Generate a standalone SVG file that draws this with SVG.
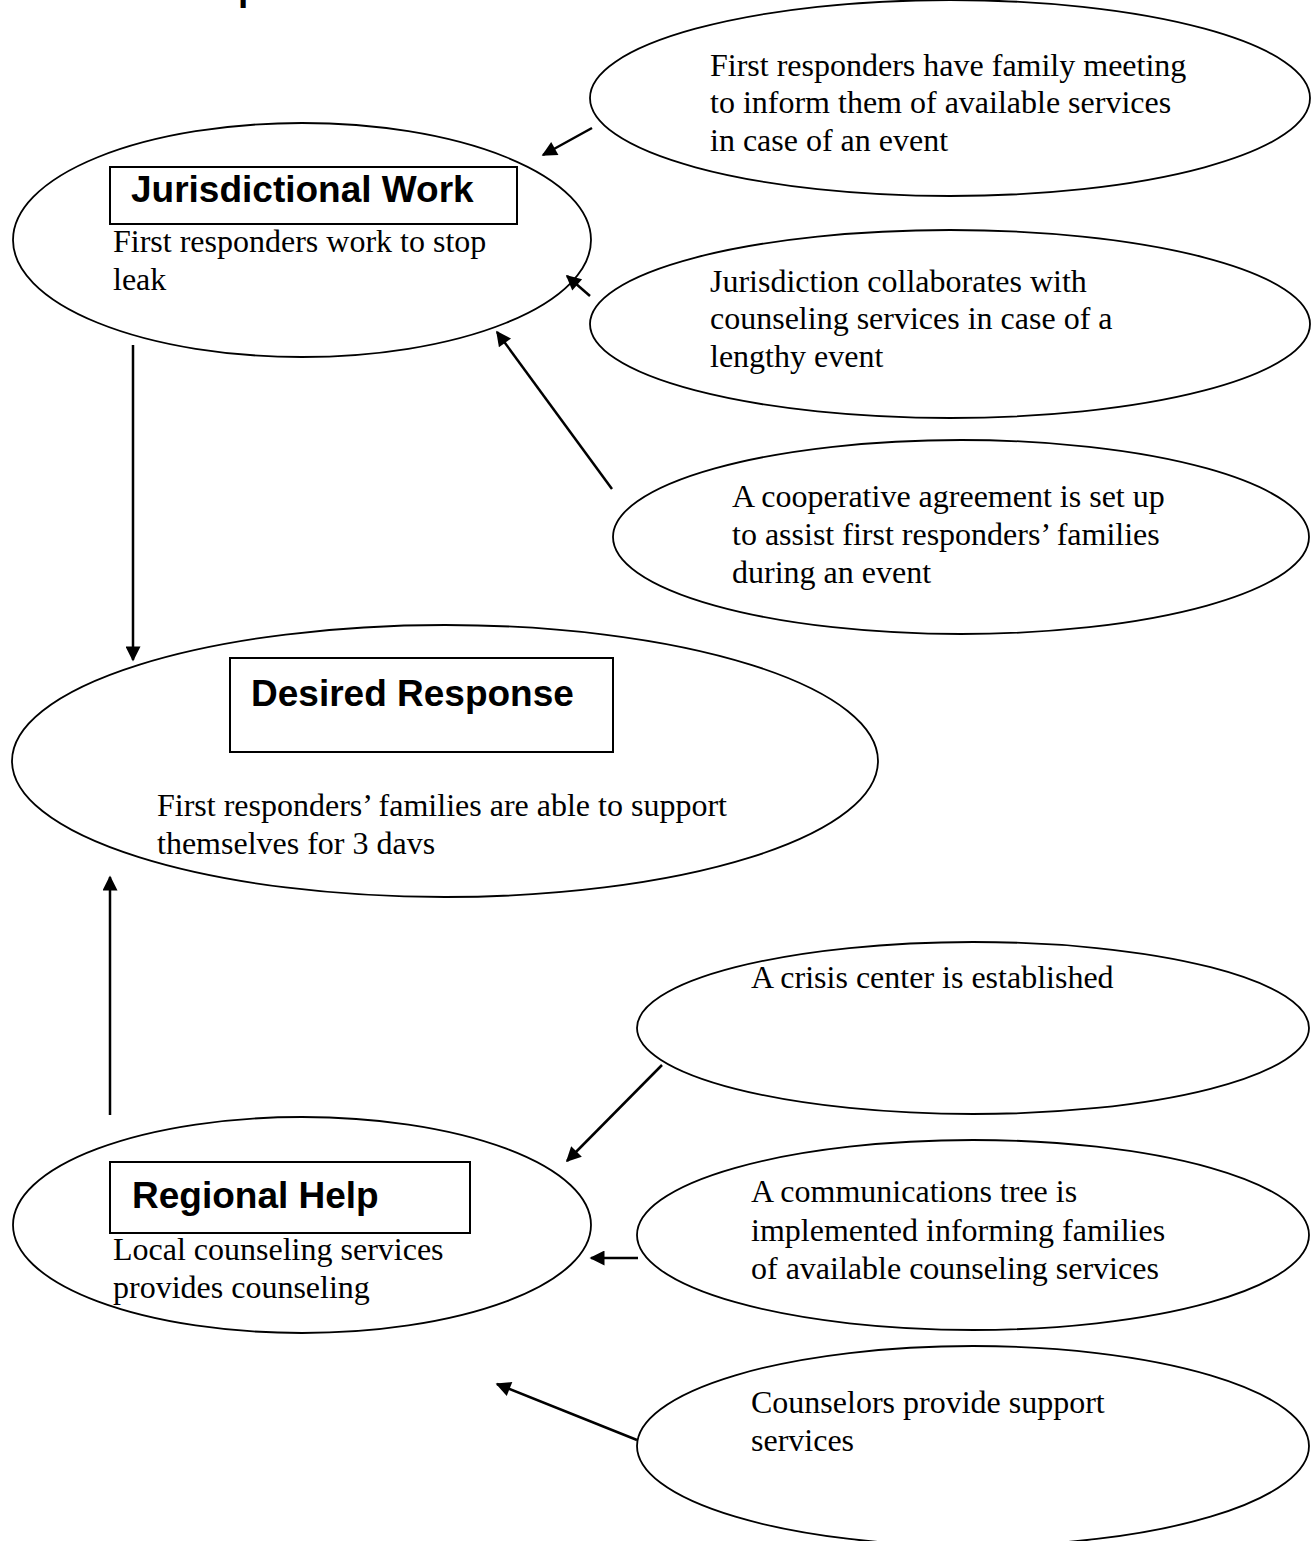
<svg xmlns="http://www.w3.org/2000/svg" width="1313" height="1541" viewBox="0 0 1313 1541">
  <style>
    .bubble { fill: #ffffff; stroke: #000000; stroke-width: 1.8; }
    .tag { fill: #ffffff; stroke: #000000; stroke-width: 2; }
    .head { font-family: "Liberation Sans", Arial, sans-serif; font-weight: bold; font-size: 37px; fill: #000000; }
    .body { font-family: "Liberation Serif", "Times New Roman", serif; font-size: 32px; fill: #000000; }
    .link { fill: none; stroke: #000000; stroke-width: 2.5; marker-end: url(#tip); }
  </style>
  <defs>
    <marker id="tip" viewBox="0 0 10 10" refX="9" refY="5" markerWidth="7.5" markerHeight="6" orient="auto" markerUnits="strokeWidth">
      <path d="M0,0 L10,5 L0,10 z" fill="#000000"/>
    </marker>
  </defs>
  <rect width="1313" height="1541" fill="#ffffff"/>

  <!-- title, clipped by the top edge -->
  <text class="head" x="238" y="0" font-size="34">p</text>

  <g id="node-jurisdictional-work">
    <ellipse class="bubble" cx="302" cy="240" rx="289" ry="117"/>
    <rect class="tag" x="110" y="167" width="407" height="57"/>
    <text class="head" x="131" y="202">Jurisdictional Work</text>
    <text class="body" x="113" y="252">First responders work to stop</text>
    <text class="body" x="113" y="290">leak</text>
  </g>

  <g id="node-family-meeting">
    <ellipse class="bubble" cx="950" cy="98" rx="360" ry="98"/>
    <text class="body" x="710" y="76">First responders have family meeting</text>
    <text class="body" x="710" y="113">to inform them of available services</text>
    <text class="body" x="710" y="151">in case of an event</text>
  </g>

  <g id="node-collaboration">
    <ellipse class="bubble" cx="950" cy="324" rx="360" ry="94"/>
    <text class="body" x="710" y="292">Jurisdiction collaborates with</text>
    <text class="body" x="710" y="329">counseling services in case of a</text>
    <text class="body" x="710" y="367">lengthy event</text>
  </g>

  <g id="node-cooperative-agreement">
    <ellipse class="bubble" cx="961" cy="537" rx="348" ry="97"/>
    <text class="body" x="732" y="507">A cooperative agreement is set up</text>
    <text class="body" x="732" y="545">to assist first responders’ families</text>
    <text class="body" x="732" y="583">during an event</text>
  </g>

  <g id="node-desired-response">
    <ellipse class="bubble" cx="445" cy="761" rx="433" ry="136"/>
    <rect class="tag" x="230" y="658" width="383" height="94"/>
    <text class="head" x="251" y="706">Desired Response</text>
    <text class="body" x="157" y="816">First responders’ families are able to support</text>
    <text class="body" x="157" y="854">themselves for 3 davs</text>
  </g>

  <g id="node-crisis-center">
    <ellipse class="bubble" cx="973" cy="1028" rx="336" ry="86"/>
    <text class="body" x="751" y="988">A crisis center is established</text>
  </g>

  <g id="node-regional-help">
    <ellipse class="bubble" cx="302" cy="1225" rx="289" ry="108"/>
    <rect class="tag" x="110" y="1162" width="360" height="71"/>
    <text class="head" x="132" y="1208">Regional Help</text>
    <text class="body" x="113" y="1260">Local counseling services</text>
    <text class="body" x="113" y="1298">provides counseling</text>
  </g>

  <g id="node-communications-tree">
    <ellipse class="bubble" cx="973" cy="1235" rx="336" ry="95"/>
    <text class="body" x="751" y="1202">A communications tree is</text>
    <text class="body" x="751" y="1241">implemented informing families</text>
    <text class="body" x="751" y="1279">of available counseling services</text>
  </g>

  <g id="node-counselors">
    <ellipse class="bubble" cx="973" cy="1446" rx="336" ry="100"/>
    <text class="body" x="751" y="1413">Counselors provide support</text>
    <text class="body" x="751" y="1451">services</text>
  </g>

  <g id="connectors">
    <line class="link" x1="592" y1="128" x2="543" y2="155"/>
    <line class="link" x1="590" y1="296" x2="567" y2="276"/>
    <line class="link" x1="612" y1="489" x2="497" y2="332"/>
    <line class="link" x1="133" y1="345" x2="133" y2="660"/>
    <line class="link" x1="110" y1="1115" x2="110" y2="877"/>
    <line class="link" x1="662" y1="1065" x2="567" y2="1161"/>
    <line class="link" x1="638" y1="1258" x2="591" y2="1258"/>
    <line class="link" x1="637" y1="1440" x2="497" y2="1384"/>
  </g>
</svg>
